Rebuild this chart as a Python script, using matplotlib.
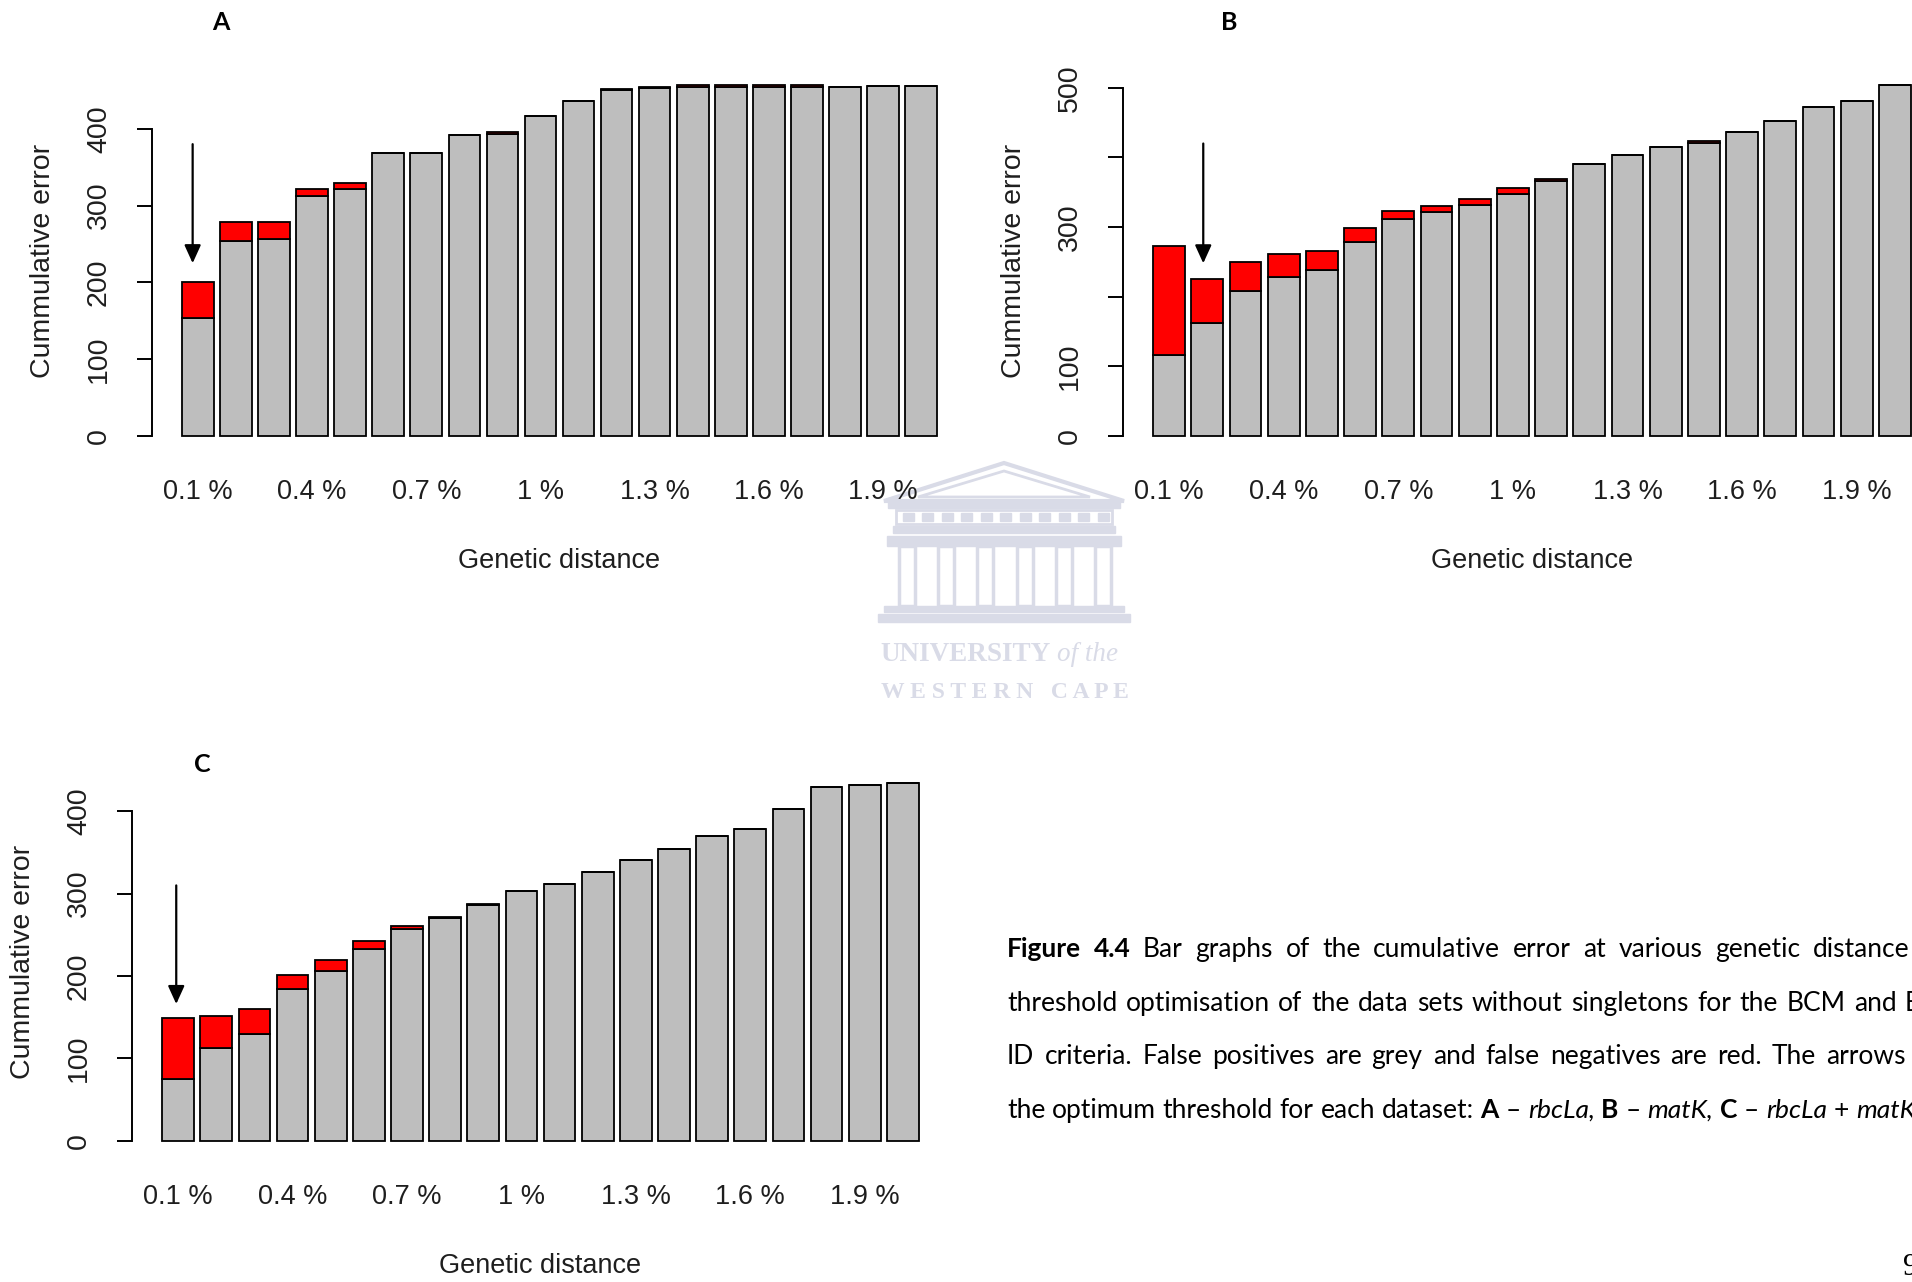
import numpy as np
import matplotlib
matplotlib.use('Agg')
import matplotlib.pyplot as plt
from matplotlib.patches import Rectangle, Polygon

W, H = 1912, 1282

# genetic distance thresholds
thresholds = ['0.1 %', '0.2 %', '0.3 %', '0.4 %', '0.5 %', '0.6 %', '0.7 %', '0.8 %', '0.9 %', '1 %',
              '1.1 %', '1.2 %', '1.3 %', '1.4 %', '1.5 %', '1.6 %', '1.7 %', '1.8 %', '1.9 %', '2 %']

# false positives (grey) / false negatives (red) at each threshold
fp_rbcla = [153, 254, 256, 312, 321, 369, 369, 392, 393, 417, 436, 450, 453, 455, 455, 455, 455, 454, 456, 456]
fn_rbcla = [47, 24, 22, 10, 8, 0, 0, 0, 3, 0, 0, 2, 2, 2, 2, 2, 2, 0, 0, 0]

fp_matk = [116, 162, 208, 229, 239, 278, 312, 322, 332, 347, 366, 391, 404, 415, 421, 437, 453, 473, 481, 504]
fn_matk = [157, 64, 42, 32, 26, 21, 11, 8, 8, 9, 3, 0, 0, 0, 3, 0, 0, 0, 0, 0]

fp_comb = [75, 113, 130, 184, 206, 233, 257, 270, 286, 303, 312, 326, 341, 354, 370, 378, 403, 430, 432, 434]
fn_comb = [74, 39, 30, 17, 13, 9, 4, 2, 2, 0, 0, 0, 0, 0, 0, 0, 0, 0, 0, 0]

# optimum threshold arrows: x position, arrow start, arrow tip
arrow_rbcla = (0.53, 380, 225)
arrow_matk = (1.77, 420, 248)
arrow_comb = (0.64, 310, 166)

INK = '#1e1e1e'
SANS = 'Liberation Sans'

fig = plt.figure(figsize=(W / 100, H / 100), dpi=100)
page = fig.add_axes([0, 0, 1, 1], zorder=-1)
page.set_xlim(0, W)
page.set_ylim(H, 0)
page.axis('off')


def px_axes(left, top, width, height):
    ax = fig.add_axes([left / W, 1 - (top + height) / H, width / W, height / H])
    ax.set_facecolor('none')
    return ax


def error_panel(ax, fp, fn, yticks, ylabels, arrow):
    n = len(fp)
    x = 0.7 + 1.2 * np.arange(n)
    ax.bar(x, fp, width=1, color='#bebebe', edgecolor='black', linewidth=1.3)
    ax.bar(x, fn, width=1, bottom=fp, color='#ff0000', edgecolor='black', linewidth=1.3)
    top = max(np.add(fp, fn))
    lo, hi = 0.2, 1.2 * n
    ax.set_xlim(lo - 0.04 * (hi - lo), hi + 0.04 * (hi - lo))
    ax.set_ylim(-0.04 * top, 1.04 * top)
    for s in ['top', 'right', 'bottom']:
        ax.spines[s].set_visible(False)
    ax.spines['left'].set_bounds(yticks[0], yticks[-1])
    ax.spines['left'].set_linewidth(1.4)
    ax.set_yticks(yticks)
    ax.set_yticklabels(ylabels, rotation=90, va='center', family=SANS, color=INK)
    ax.tick_params(axis='y', length=10.8, width=1.4, pad=18, labelsize=20.5)
    ax.set_xticks(x[::3], thresholds[::3])
    ax.tick_params(axis='x', length=0, pad=30, labelsize=19.5)
    for t in ax.get_xticklabels():
        t.set_va('center')
        t.set_family(SANS)
        t.set_color(INK)
    ax.annotate('Genetic distance', xy=(0.5, 0), xycoords='axes fraction', xytext=(0, -111),
                textcoords='offset pixels', ha='center', va='center', fontsize=19.5,
                family=SANS, color=INK)
    ax.annotate('Cummulative error', xy=(0, 0.5), xycoords='axes fraction', xytext=(-109, 0),
                textcoords='offset pixels', ha='center', va='center', rotation=90,
                fontsize=20.5, family=SANS, color=INK)
    ax_x, y0, y1 = arrow
    ax.annotate('', xy=(ax_x, y1), xytext=(ax_x, y0),
                arrowprops=dict(arrowstyle='-|>,head_length=0.55,head_width=0.25', color='black',
                                lw=1.6, mutation_scale=20, shrinkA=0, shrinkB=0))


axA = px_axes(152, 71, 815, 379)
error_panel(axA, fp_rbcla, fn_rbcla, [0, 100, 200, 300, 400], ['0', '100', '200', '300', '400'], arrow_rbcla)
axB = px_axes(1123, 71, 818, 379)
error_panel(axB, fp_matk, fn_matk, [0, 100, 200, 300, 400, 500], ['0', '100', '', '300', '', '500'], arrow_matk)
axC = px_axes(132, 769, 817, 386)
error_panel(axC, fp_comb, fn_comb, [0, 100, 200, 300, 400], ['0', '100', '200', '300', '400'], arrow_comb)

for letter, lx, ly in [('A', 221, 23), ('B', 1229, 23), ('C', 202, 765)]:
    page.text(lx, ly, letter, ha='center', va='center', fontsize=18, fontweight='bold',
              family='Lato', color='black')

# university watermark
wm = '#d9dbe7'
page.add_patch(Polygon([(884, 501), (1004, 463), (1124, 501)], closed=True, fill=False,
                       edgecolor=wm, lw=3))
page.add_patch(Polygon([(918, 497), (1004, 471), (1090, 497)], closed=True, fill=False,
                       edgecolor=wm, lw=2))
page.add_patch(Rectangle((888, 501), 232, 7, color=wm))
page.add_patch(Rectangle((896, 510), 216, 14, fill=False, edgecolor=wm, lw=2))
for k in range(11):
    page.add_patch(Rectangle((903 + 19.5 * k, 513), 11, 8, color=wm))
page.add_patch(Rectangle((893, 526), 222, 7, color=wm))
page.add_patch(Rectangle((887, 536), 234, 10, color=wm))
for cx in [907, 946, 985, 1025, 1064, 1103]:
    page.add_patch(Rectangle((cx - 8, 546), 16, 60, fill=False, edgecolor=wm, lw=2.5))
page.add_patch(Rectangle((884, 606), 240, 6, color=wm))
page.add_patch(Rectangle((878, 614), 252, 8, color=wm))

renderer = fig.canvas.get_renderer()


def run_of_words(tokens, x0, y, x_last=None, x_end=None, size=19, family='Lato', color='black'):
    # lay words out along a line; justified when x_last (start of last word) or x_end is given
    arts = []
    for s, bold, ital in tokens:
        arts.append(page.text(0, y, s, fontsize=size, family=family, color=color,
                              fontweight='bold' if bold else 'normal',
                              fontstyle='italic' if ital else 'normal',
                              ha='left', va='baseline'))
    widths = [t.get_window_extent(renderer).width for t in arts]
    if x_last is not None:
        gap = (x_last - x0 - sum(widths[:-1])) / (len(arts) - 1)
    elif x_end is not None:
        gap = (x_end - x0 - sum(widths)) / (len(arts) - 1)
    else:
        a = page.text(0, 0, 'a a', fontsize=size, family=family)
        b = page.text(0, 0, 'aa', fontsize=size, family=family)
        gap = a.get_window_extent(renderer).width - b.get_window_extent(renderer).width
        a.remove()
        b.remove()
    x = x0
    for t, w in zip(arts, widths):
        t.set_x(x)
        x += w + gap


run_of_words([('UNIVERSITY', True, False), ('of the', False, True)], 880, 661, size=19.5,
             family='Liberation Serif', color=wm)
page.text(1005, 698, 'W E S T E R N   C A P E', ha='center', va='baseline', fontsize=17,
          fontweight='bold', family='Liberation Serif', color=wm)


def plain(text):
    return [(w, False, False) for w in text.split()]


line1 = [('Figure', True, False), ('4.4', True, False)] + plain(
    'Bar graphs of the cumulative error at various genetic distance')
line2 = plain('threshold optimisation of the data sets without singletons for the BCM and BM')
line3 = plain('ID criteria. False positives are grey and false negatives are red. The arrows')
line4 = plain('the optimum threshold for each dataset:') + [
    ('A', True, False), ('–', False, False), ('rbcLa,', False, True),
    ('B', True, False), ('–', False, False), ('matK,', False, True),
    ('C', True, False), ('–', False, False), ('rbcLa', False, True), ('+', False, False),
    ('matK.', False, True)]

run_of_words(line1, 1007, 957, x_last=1813)
run_of_words(line2, 1007, 1011, x_last=1905)
run_of_words(line3, 1007, 1064, x_end=1906)
run_of_words(line4, 1007, 1118)

page.text(1903, 1253, '9', ha='left', va='top', fontsize=22, family='Liberation Serif', color='black')

fig.savefig('out.png', dpi=100)
